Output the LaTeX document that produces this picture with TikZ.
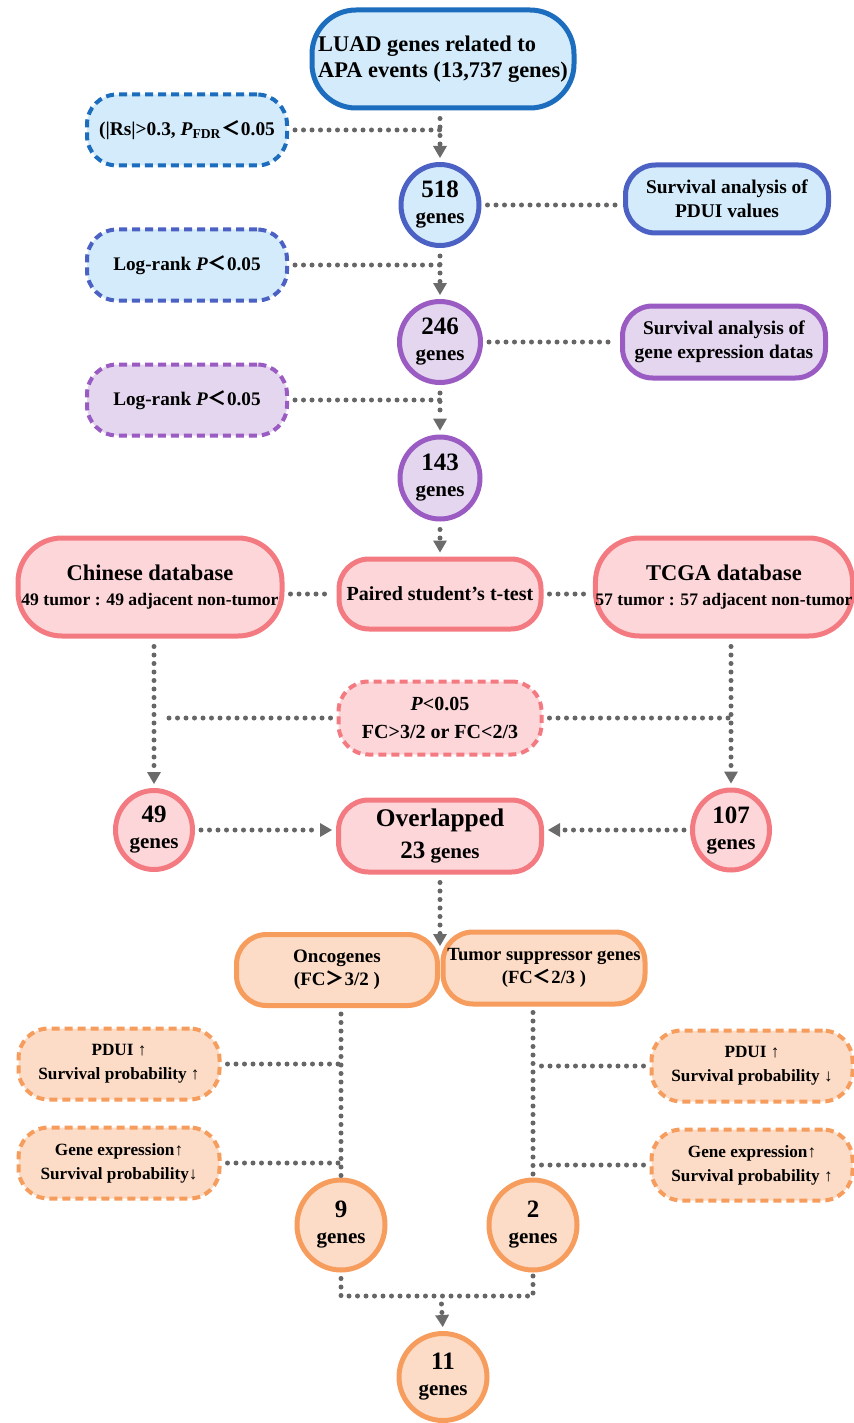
\documentclass[tikz,border=0pt]{standalone}
\usepackage{fontspec}
\setmainfont{Liberation Serif}
\newfontfamily\cjk{Noto Sans CJK SC}
\usetikzlibrary{shapes.geometric,arrows.meta}
\newcommand{\wlt}{{\cjk ＜}}
\newcommand{\wgt}{{\cjk ＞}}
\definecolor{bA}{HTML}{1C6DBE}
\definecolor{bB}{HTML}{4B61C3}
\definecolor{fB}{HTML}{D3EBFA}
\definecolor{pU}{HTML}{9A5BC2}
\definecolor{fP}{HTML}{E3D6EE}
\definecolor{rK}{HTML}{F27A80}
\definecolor{fK}{HTML}{FDD6D9}
\definecolor{oR}{HTML}{F69D5E}
\definecolor{fO}{HTML}{FCDCC6}
\definecolor{dotc}{HTML}{666666}
\definecolor{arrc}{HTML}{6B6B6B}
\begin{document}
\begin{tikzpicture}[x=0.5pt,y=-0.5pt,
  box/.style={rectangle, rounded corners=15pt, line width=2.5pt, align=center, inner sep=0pt},
  bigbox/.style={box, rounded corners=22pt},
  circ/.style={ellipse, line width=2.5pt, inner sep=0pt, align=center, font=\bfseries\fontsize{10.5}{13}\selectfont},
  dbox/.style={rectangle, rounded corners=15pt, line width=2pt, dash pattern=on 4pt off 2.5pt, align=center, inner sep=0pt},
  sz/.style 2 args={minimum width=#1pt, minimum height=#2pt},
  blueA/.style={draw=bA, fill=fB},
  blueB/.style={draw=bB, fill=fB},
  purp/.style={draw=pU, fill=fP},
  pink/.style={draw=rK, fill=fK},
  orng/.style={draw=oR, fill=fO},
  dotl/.style={draw=dotc, line width=2.5pt, line cap=round, dash pattern=on 0pt off 4.25pt},
  arr/.style={dotl, shorten >=2pt, -{Triangle[width=7pt,length=6pt,line width=0pt,fill=arrc,color=arrc]}},
]
\useasboundingbox (0,0) rectangle (854,1423);

% ---- top column ----
\node[bigbox, blueA, sz={131}{49}, align=left, font=\bfseries\fontsize{11.2}{12.8}\selectfont] (luad) at (443,59)
  {LUAD genes related to\\APA events (13,737 genes)};
\node[dbox, blueA, sz={100}{35.5}, font=\bfseries\fontsize{9.7}{12}\selectfont] (dA) at (187,130)
  {(|Rs|>0.3, \textit{P}\textsubscript{FDR}\wlt 0.05};
\node[circ, blueB, sz={39}{40.5}] (n518) at (440,205)
  {{\fontsize{12.5}{13}\selectfont 518}\\genes};
\node[box, blueB, sz={101.5}{34}, font=\bfseries\fontsize{9.7}{12}\selectfont] (sPDUI) at (727,199)
  {Survival analysis of\\PDUI values};
\node[dbox, blueB, sz={100}{35.5}, font=\bfseries\fontsize{9.6}{12}\selectfont] (dB) at (187,265)
  {Log-rank \textit{P}\wlt 0.05};
\node[circ, purp, sz={40.5}{40.5}] (n246) at (440,342)
  {{\fontsize{12.5}{13}\selectfont 246}\\genes};
\node[box, purp, sz={101.5}{36}, font=\bfseries\fontsize{9.7}{12}\selectfont] (sGene) at (724,342)
  {Survival analysis of\\gene expression datas};
\node[dbox, purp, sz={100}{35.5}, font=\bfseries\fontsize{9.6}{12}\selectfont] (dC) at (187,400)
  {Log-rank \textit{P}\wlt 0.05};
\node[circ, purp, sz={40}{41}] (n143) at (440,478)
  {{\fontsize{12.5}{13}\selectfont 143}\\genes};

% ---- pink section ----
\node[bigbox, pink, sz={132}{49}, font=\bfseries\fontsize{8.8}{12.5}\selectfont] (chin) at (150,587)
  {{\fontsize{11.25}{12}\selectfont Chinese database}\\49 tumor : 49 adjacent non-tumor};
\node[box, pink, sz={101}{35}, font=\bfseries\fontsize{10}{12}\selectfont] (paired) at (440,594)
  {Paired student's t-test};
\node[bigbox, pink, sz={128.5}{49}, font=\bfseries\fontsize{8.8}{12.5}\selectfont] (tcga) at (724,587)
  {{\fontsize{11.25}{12}\selectfont TCGA database}\\57 tumor : 57 adjacent non-tumor};
\node[dbox, pink, sz={101.5}{36.5}, font=\bfseries\fontsize{10}{14}\selectfont] (pfc) at (440,718)
  {\textit{P}<0.05\\FC>3/2 or FC<2/3};
\node[circ, pink, sz={38.5}{39.5}] (n49) at (154,830)
  {{\fontsize{12.5}{13}\selectfont 49}\\genes};
\node[box, pink, sz={101.5}{36}, font=\bfseries\fontsize{10.5}{16}\selectfont] (over) at (440,836)
  {{\fontsize{12.7}{13}\selectfont Overlapped}\\{\fontsize{12.5}{13}\selectfont 23} genes};
\node[circ, pink, sz={38.5}{40}] (n107) at (731,830)
  {{\fontsize{12.5}{13}\selectfont 107}\\genes};

% ---- orange section ----
\node[box, orng, sz={100.5}{35.5}, font=\bfseries\fontsize{9.5}{11.5}\selectfont] (onco) at (337,970)
  {Oncogenes\\(FC\wgt 3/2 )};
\node[box, orng, sz={101}{36}, font=\bfseries\fontsize{9.3}{11.5}\selectfont] (tsg) at (544,968)
  {Tumor suppressor genes\\(FC\wlt 2/3 )};
\node[dbox, orng, sz={100.5}{35.5}, font=\bfseries\fontsize{8.6}{12}\selectfont] (pL) at (119,1064)
  {PDUI ↑\\Survival probability ↑};
\node[dbox, orng, sz={100.5}{35.5}, font=\bfseries\fontsize{8.6}{12}\selectfont] (gL) at (119,1163)
  {Gene expression↑\\Survival probability↓};
\node[dbox, orng, sz={100.5}{35.5}, font=\bfseries\fontsize{8.6}{12}\selectfont] (pR) at (752,1066)
  {PDUI ↑\\Survival probability ↓};
\node[dbox, orng, sz={100.5}{35.5}, font=\bfseries\fontsize{8.6}{12}\selectfont] (gR) at (752,1165)
  {Gene expression↑\\Survival probability ↑};
\node[circ, orng, sz={44}{45}] (n9) at (341,1225)
  {{\fontsize{12.5}{13}\selectfont 9}\\genes};
\node[circ, orng, sz={44}{45}] (n2) at (533,1225)
  {{\fontsize{12.5}{13}\selectfont 2}\\genes};
\node[circ, orng, sz={44}{43.5}] (n11) at (443,1377)
  {{\fontsize{12.5}{13}\selectfont 11}\\genes};

\coordinate (ot) at (440,950);
\coordinate (j) at (441,1296);

% ---- connectors ----
\draw[arr, shorten <=4pt] (n518.north |- luad.south) -- (n518.north);
\draw[dotl, shorten <=3pt] (dA.east) -- (dA.east -| n518.north);
\draw[dotl, shorten <=3pt, shorten >=3pt] (n518.east) -- (n518.east -| sPDUI.west);
\draw[arr, shorten <=4pt] (n518.south) -- (n246.north);
\draw[dotl, shorten <=3pt] (dB.east) -- (dB.east -| n246.north);
\draw[dotl, shorten <=3pt, shorten >=3pt] (n246.east) -- (sGene.west);
\draw[arr, shorten <=4pt] (n246.south) -- (n143.north);
\draw[dotl, shorten <=3pt] (dC.east) -- (dC.east -| n143.north);
\draw[arr, shorten <=4pt] (n143.south) -- (paired.north);
\draw[dotl, shorten <=3pt, shorten >=3pt] (paired.west -| chin.east) -- (paired.west);
\draw[dotl, shorten <=3pt, shorten >=3pt] (paired.east) -- (paired.east -| tcga.west);
\draw[arr, shorten <=4pt] (n49.north |- chin.south) -- (n49.north);
\draw[arr, shorten <=4pt] (n107.north |- tcga.south) -- (n107.north);
\draw[dotl, shorten <=3pt, shorten >=4pt] (pfc.west) -- (pfc.west -| n49.north);
\draw[dotl, shorten <=3pt, shorten >=1pt] (pfc.east) -- (pfc.east -| n107.north);
\draw[arr, shorten <=3pt] (n49.east) -- (n49.east -| over.west);
\draw[arr, shorten <=3pt] (n107.west) -- (n107.west -| over.east);
\draw[dotl, shorten <=3pt] (n9.north |- onco.south) -- (n9.north);
\draw[dotl, shorten <=3pt] (n2.north |- tsg.south) -- (n2.north);
\draw[dotl, shorten <=3pt] (pL.east) -- (pL.east -| n9.north);
\draw[dotl, shorten <=3pt] (gL.east) -- (gL.east -| n9.north);
\draw[dotl, shorten <=3pt] (pR.west) -- (pR.west -| n2.north);
\draw[dotl, shorten <=3pt] (gR.west) -- (gR.west -| n2.north);
\draw[dotl, shorten <=3pt] (n9.south) |- (j) -| (n2.south);
\draw[arr, shorten <=4pt] (j) -- (n11.north);
\draw[arr, shorten <=4pt] (over.south) -- (ot);
\end{tikzpicture}
\end{document}
